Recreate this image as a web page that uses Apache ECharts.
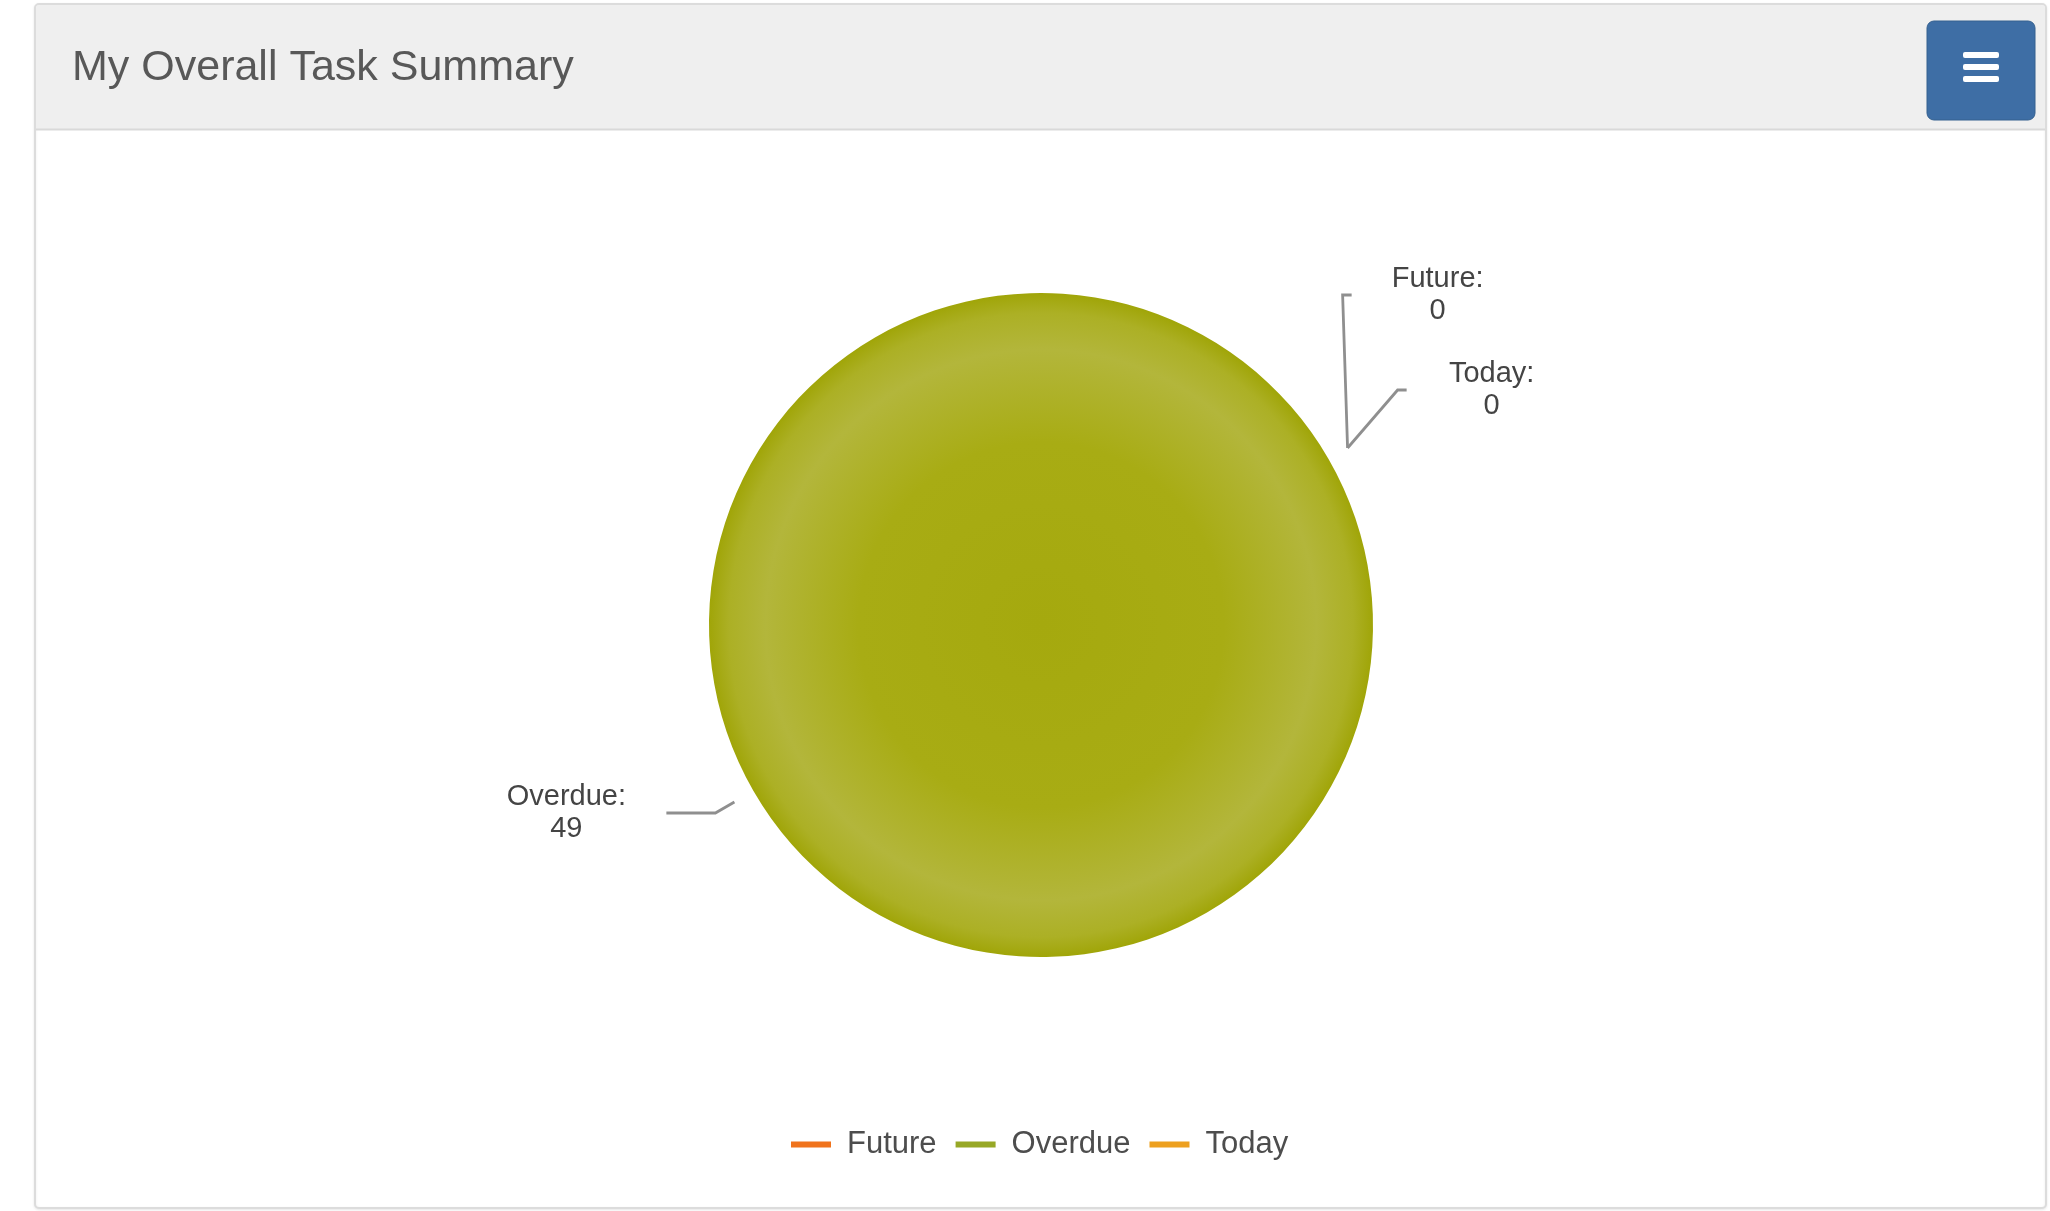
<!DOCTYPE html>
<html>
<head>
<meta charset="utf-8">
<script src="https://cdn.jsdelivr.net/npm/echarts@6/dist/echarts.min.js"></script>
<style>
html,body{margin:0;padding:0;background:#fff;}
#c{width:2050px;height:1211px;}
</style>
</head>
<body>
<div id="c"></div>
<script>
// ---- data ----
const chartTitle = 'My Overall Task Summary';
const categories = ['Future', 'Overdue', 'Today'];
const taskCounts = [0, 49, 0];
const legendColors = ['#f0731c', '#97a826', '#eda01f'];

// ---- label placement styles (offsets relative to library layout) ----
const labelNudge = {
  Future:  { bendX: -24, dy: -142, tail: 9,  gap: 26 },
  Overdue: { bendX: 0,   dy: 0,    tail: 49, gap: 40 },
  Today:   { bendX: 31,  dy: -47,  tail: 9,  gap: 25 }
};

const FONT = "'Liberation Sans', Arial, sans-serif";

const pieFill = {
  type: 'radial', x: 0.5, y: 0.5, r: 0.5,
  colorStops: [
    { offset: 0, color: '#a5a90e' },
    { offset: 0.55, color: '#a8ac14' },
    { offset: 0.83, color: '#b3b63b' },
    { offset: 0.94, color: '#acb025' },
    { offset: 1, color: '#a0a508' }
  ]
};

function layoutLabel(p) {
  const pts = p.labelLinePoints;
  if (!pts || pts.length < 3) return {};
  const n = labelNudge[categories[p.dataIndex]];
  const side = pts[2][0] >= pts[1][0] ? 1 : -1;
  const p1 = [pts[1][0] + n.bendX, pts[1][1] + n.dy];
  const p2 = [p1[0] + side * n.tail, p1[1]];
  return {
    x: p2[0] + side * n.gap,
    y: p2[1],
    labelLinePoints: [pts[0], p1, p2]
  };
}

const pieData = categories.map((name, i) => ({ name: name, value: taskCounts[i] }));

const chart = echarts.init(document.getElementById('c'), null, { renderer: 'canvas' });
chart.setOption({
  animation: false,
  backgroundColor: '#ffffff',
  title: {
    text: chartTitle,
    left: 72, top: 47, padding: 0,
    textStyle: { fontSize: 43, fontWeight: 'normal', color: '#585858', fontFamily: FONT }
  },
  graphic: [
    { type: 'rect', z: -10, shape: { x: 35, y: 4, width: 2011, height: 1204, r: 4 },
      style: { fill: '#ffffff', stroke: '#dcdcdc', lineWidth: 2, shadowBlur: 3, shadowColor: 'rgba(0,0,0,0.08)', shadowOffsetY: 1 } },
    { type: 'rect', z: -9, shape: { x: 36, y: 5, width: 2009, height: 124, r: [4, 4, 0, 0] },
      style: { fill: '#efefef' } },
    { type: 'line', z: -8, shape: { x1: 36, y1: 129.5, x2: 2045, y2: 129.5 },
      style: { stroke: '#d9d9d9', lineWidth: 2 } },
    { type: 'rect', z: -7, shape: { x: 1927, y: 21, width: 108, height: 99, r: 7 },
      style: { fill: '#3e6ea5', stroke: '#34608f', lineWidth: 1 } },
    { type: 'rect', z: -6, shape: { x: 1963, y: 52, width: 36, height: 6, r: 2 }, style: { fill: '#ffffff' } },
    { type: 'rect', z: -6, shape: { x: 1963, y: 64, width: 36, height: 6, r: 2 }, style: { fill: '#ffffff' } },
    { type: 'rect', z: -6, shape: { x: 1963, y: 76, width: 36, height: 6, r: 2 }, style: { fill: '#ffffff' } }
  ],
  legend: {
    left: 786, top: 1124,
    orient: 'horizontal',
    itemWidth: 40, itemHeight: 6, itemGap: 19,
    icon: 'rect',
    selectedMode: false,
    textStyle: { fontSize: 31, color: '#4d4d4d', fontFamily: FONT, padding: [0, 0, 0, 11] },
    data: categories.map((name, i) => ({ name: name, itemStyle: { color: legendColors[i] } }))
  },
  series: [
    {
      type: 'pie', name: 'Tasks',
      center: [1041, 625], radius: 332,
      startAngle: 30, clockwise: true,
      silent: true,
      avoidLabelOverlap: false,
      label: { show: false }, labelLine: { show: false },
      itemStyle: { color: pieFill, borderWidth: 0 },
      data: pieData
    },
    {
      type: 'pie', name: 'Task labels',
      center: [1041, 625], radius: 354,
      startAngle: 30, clockwise: true,
      silent: true,
      avoidLabelOverlap: false,
      itemStyle: { color: 'rgba(0,0,0,0)', borderWidth: 0 },
      label: {
        show: true, position: 'outside',
        formatter: '{t|{b}:}\n{t|{c}}',
        color: '#444', fontFamily: FONT, fontSize: 29,
        rich: { t: { width: 120, align: 'center', fontSize: 29, lineHeight: 32, color: '#444', fontFamily: FONT } }
      },
      labelLine: { show: true, length: 22, length2: 9, smooth: false,
        lineStyle: { color: '#8f8f8f', width: 2.8 } },
      labelLayout: layoutLabel,
      data: pieData
    }
  ]
});
</script>
</body>
</html>
